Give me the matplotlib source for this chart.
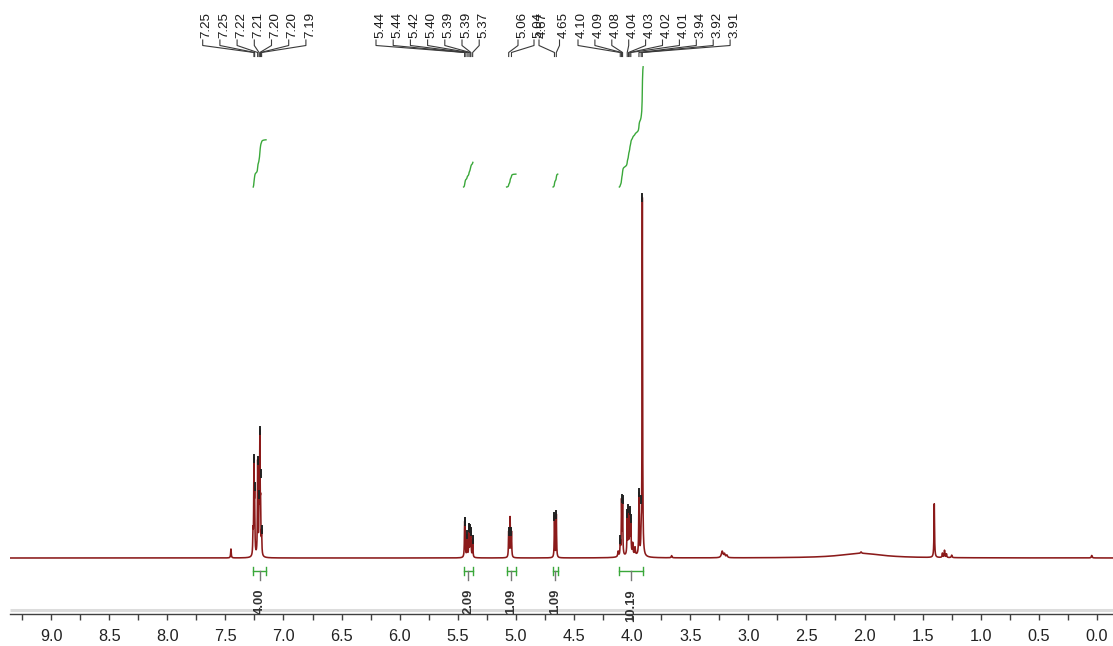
import numpy as np
import matplotlib
matplotlib.use("Agg")
import matplotlib.pyplot as plt

# ---------------- data ----------------
# labelled peaks (ppm, relative height)
labeled_ppm = [7.254, 7.248, 7.222, 7.210, 7.203, 7.197, 7.188,
               5.441, 5.437, 5.420, 5.404, 5.393, 5.387, 5.372,
               5.062, 5.038,
               4.668, 4.652,
               4.102, 4.091, 4.082, 4.042, 4.031, 4.020, 4.011, 3.941, 3.922, 3.912]
labeled_height = [0.25, 0.15, 0.26, 0.12, 0.32, 0.12, 0.06,
                  0.08, 0.07, 0.06, 0.08, 0.07, 0.06, 0.05,
                  0.07, 0.07,
                  0.115, 0.12,
                  0.04, 0.15, 0.15, 0.11, 0.12, 0.11, 0.09, 0.17, 0.05, 1.00]
label_group_sizes = [7, 7, 2, 2, 10]

# unlabelled peaks (ppm, height, half width)
other_ppm = [7.452, 7.262, 5.050, 4.120, 3.995, 3.975, 4.000, 3.660,
             3.225, 3.205, 3.185, 2.030, 2.030, 1.400, 1.330, 1.312, 1.295, 1.250, 0.045]
other_height = [0.025, 0.06, 0.11, 0.015, 0.03, 0.02, 0.008, 0.006,
                0.018, 0.010, 0.007, 0.013, 0.004, 0.150, 0.012, 0.020, 0.010, 0.007, 0.007]
other_width = [0.003, 0.0025, 0.0025, 0.004, 0.003, 0.003, 0.06, 0.004,
               0.008, 0.006, 0.006, 0.22, 0.005, 0.0028, 0.003, 0.003, 0.003, 0.004, 0.004]

integral_from = [7.26, 5.45, 5.08, 4.68, 4.11]
integral_to = [7.15, 5.37, 5.00, 4.64, 3.905]
integral_value = [4.00, 2.09, 1.09, 1.09, 10.19]

x_ticks = [9.0, 8.5, 8.0, 7.5, 7.0, 6.5, 6.0, 5.5, 5.0, 4.5, 4.0, 3.5, 3.0, 2.5, 2.0, 1.5, 1.0, 0.5, 0.0]

# ---------------- build spectrum ----------------
FONT = "Liberation Sans"
plt.rcParams['font.family'] = [FONT, 'DejaVu Sans']
W, H = 1113, 646
fig = plt.figure(figsize=(W / 100, H / 100), dpi=100)

XL, XR = 9.353, -0.138
base_px, top_px, axis_px = 558.0, 200.0, 614.0
scale = base_px - top_px
ax = fig.add_axes([10 / W, (H - axis_px) / H, (W - 10) / W, axis_px / H])
ax.set_xlim(XL, XR)
ax.set_ylim(-(axis_px - base_px) / scale, base_px / scale)

x = np.linspace(XL, XR, 60000)
spec = np.zeros_like(x)
SHARP = 0.0025
for c, h in zip(labeled_ppm, labeled_height):
    spec += h / (1 + ((x - c) / SHARP) ** 2)
for c, h, w in zip(other_ppm, other_height, other_width):
    spec += h / (1 + ((x - c) / w) ** 2)

RED = "#8b1a1a"
ax.plot(x, spec, color=RED, lw=1.15, zorder=3)

for s in ['top', 'left', 'right']:
    ax.spines[s].set_visible(False)
ax.spines['bottom'].set_color('#404040')
ax.spines['bottom'].set_linewidth(1.0)
ax.set_yticks([])
ax.set_xticks(x_ticks)
ax.set_xticklabels([f"{t:.1f}" for t in x_ticks])
ax.set_xticks(np.arange(9.25, -0.01, -0.5), minor=True)
ax.tick_params(axis='x', which='both', direction='out', length=4.5, width=1.0,
               color='#404040', labelsize=11.7, labelcolor='#222222', pad=6.5)
ax.patch.set_visible(False)

# ---------------- overlay (pixel coordinates) ----------------
ov = fig.add_axes([0, 0, 1, 1])
ov.set_xlim(0, W)
ov.set_ylim(H, 0)
ov.axis('off')
ov.patch.set_visible(False)


def px(ppm):
    return ax.transData.transform((ppm, 0))[0]


def ypx(val):
    return base_px - val * scale


# gray band above axis
ov.plot([10, W], [609.5, 609.5], color='#dcdcdc', lw=2.2, zorder=1, solid_capstyle='butt')

# peak labels
group_start = [202.7, 376.0, 518.0, 539.0, 578.0]
group_step = [17.2, 17.2, 16.0, 20.5, 16.9]
idx = 0
for gsize, gs, st in zip(label_group_sizes, group_start, group_step):
    for k in range(gsize):
        p = labeled_ppm[idx]
        lx = gs + k * st
        pxp = px(p)
        ov.plot([lx, lx, pxp, pxp], [40, 45.5, 52.5, 56.5], color='#3a3a3a', lw=0.8, zorder=4)
        ov.text(lx + 4, 38.5, f"{p:.2f}", rotation=90, ha='center', va='bottom',
                fontsize=9.6, color='#1a1a1a', family=FONT)
        # marker at peak top
        m = (x < p + 0.004) & (x > p - 0.004)
        top = ypx(spec[m].max())
        ov.plot([pxp, pxp], [top - 3, top + 4], color='#222222', lw=1.4, zorder=5)
        idx += 1

# integrals
GREEN = "#3aa83a"
INT_BASE = 187.0
PX_PER_UNIT = 11.8
for f, t, v in zip(integral_from, integral_to, integral_value):
    m = (x <= f) & (x >= t)
    cum = np.cumsum(spec[m])
    cum = (cum - cum[0]) / (cum[-1] - cum[0])
    xs = [px(q) for q in x[m][::20]] + [px(x[m][-1])]
    ys = list(INT_BASE - v * PX_PER_UNIT * cum[::20]) + [INT_BASE - v * PX_PER_UNIT]
    ov.plot(xs, ys, color=GREEN, lw=1.0, zorder=4)
    x0, x1 = px(f), px(t)
    ov.plot([x0, x1], [571, 571], color=GREEN, lw=1.0, zorder=4)
    ov.plot([x0, x0], [567, 575], color=GREEN, lw=1.0, zorder=4)
    ov.plot([x1, x1], [567, 575], color=GREEN, lw=1.0, zorder=4)
    xc = 0.5 * (x0 + x1)
    ov.plot([xc, xc], [571, 580], color='#777777', lw=1.0, zorder=4)
    ov.text(xc, 589, f"{v:.2f}", rotation=90, ha='center', va='top', fontsize=9.4,
            fontweight='bold', color='#333333', family=FONT, zorder=6)

fig.savefig("out.png", dpi=100)
